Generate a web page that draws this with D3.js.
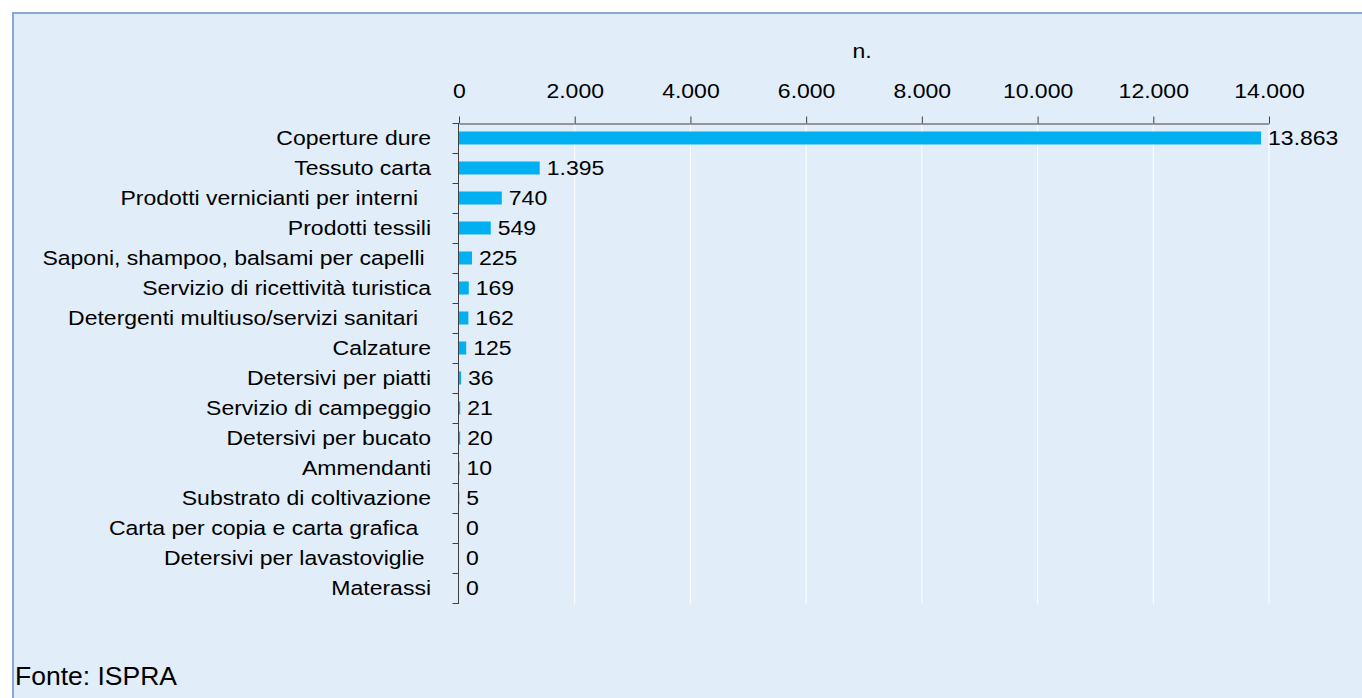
<!DOCTYPE html>
<html>
<head>
<meta charset="utf-8">
<script src="https://cdnjs.cloudflare.com/ajax/libs/d3/7.8.5/d3.min.js"></script>
<style>
  body { margin: 0; background: #ffffff; }
  svg text { font-family: "Liberation Sans", Arial, sans-serif; fill: #000; white-space: pre; }
</style>
</head>
<body>
<div id="chart"></div>
<script>
// categories (trailing spaces kept as in the source labels)
var categories = [
    'Coperture dure',
    'Tessuto carta',
    'Prodotti vernicianti per interni  ',
    'Prodotti tessili',
    'Saponi, shampoo, balsami per capelli ',
    'Servizio di ricettività turistica',
    'Detergenti multiuso/servizi sanitari  ',
    'Calzature',
    'Detersivi per piatti',
    'Servizio di campeggio',
    'Detersivi per bucato',
    'Ammendanti',
    'Substrato di coltivazione',
    'Carta per copia e carta grafica  ',
    'Detersivi per lavastoviglie ',
    'Materassi'
];
var values = [13863, 1395, 740, 549, 225, 169, 162, 125, 36, 21, 20, 10, 5, 0, 0, 0];
var xTicks = [0, 2000, 4000, 6000, 8000, 10000, 12000, 14000];
var unitLabel = 'n.';
var sourceLabel = 'Fonte: ISPRA';

var W = 1362, H = 698;
var plot = {left: 459, right: 1269, top: 123, bottom: 603};
var stretch = 'scale(1.18,1)';

var it = d3.formatLocale({decimal: ',', thousands: '.', grouping: [3], currency: ['', ' €']});
var fmt = it.format(',d');

var svg = d3.select('#chart').append('svg')
    .attr('width', W)
    .attr('height', H);

// panel
svg.append('rect')
    .attr('x', 13)
    .attr('y', 13)
    .attr('width', W + 20)
    .attr('height', H + 20)
    .attr('fill', '#e1edf8')
    .attr('stroke', '#87a5d8')
    .attr('stroke-width', 2);

var x = d3.scaleLinear()
    .domain([0, 14000])
    .range([plot.left, plot.right]);

var y = d3.scaleBand()
    .domain(categories)
    .range([plot.top, plot.bottom])
    .paddingInner(0.567)
    .paddingOuter(0.283);

var yRow = d3.scaleBand()
    .domain(categories)
    .range([plot.top, plot.bottom]);

// white gridlines
svg.append('g')
    .selectAll('line')
    .data(xTicks.slice(1))
    .enter().append('line')
    .attr('x1', function(d) { return x(d); })
    .attr('x2', function(d) { return x(d); })
    .attr('y1', plot.top)
    .attr('y2', plot.bottom + 1)
    .attr('stroke', '#ffffff')
    .attr('stroke-width', 1);

// bars
svg.append('g')
    .selectAll('rect')
    .data(values)
    .enter().append('rect')
    .attr('x', x(0))
    .attr('y', function(d, i) { return y(categories[i]); })
    .attr('width', function(d) { return x(d) - x(0); })
    .attr('height', y.bandwidth())
    .attr('fill', '#00b0f0');

// top axis
var xAxis = svg.append('g')
    .attr('transform', 'translate(0,' + (plot.top + 0.5) + ')')
    .call(d3.axisTop(x)
        .tickValues(xTicks)
        .tickFormat(fmt)
        .tickSizeInner(7)
        .tickSizeOuter(0)
        .tickPadding(19));
xAxis.select('.domain').attr('stroke', '#404040');
xAxis.selectAll('.tick line').attr('stroke', '#404040');
xAxis.selectAll('.tick text')
    .attr('font-size', '19.5px')
    .attr('font-family', '"Liberation Sans", Arial, sans-serif')
    .attr('fill', '#000')
    .attr('transform', stretch);

// left axis (ticks between categories)
var yAxisG = svg.append('g')
    .attr('transform', 'translate(' + (plot.left - 0.5) + ',0)');
yAxisG.append('line')
    .attr('x1', 0).attr('x2', 0)
    .attr('y1', plot.top).attr('y2', plot.bottom + 1)
    .attr('stroke', '#404040');
yAxisG.selectAll('line.tick')
    .data(categories.concat(['__end']))
    .enter().append('line')
    .attr('class', 'tick')
    .attr('x1', -6).attr('x2', 0)
    .attr('y1', function(d, i) { return (i < categories.length ? yRow(d) : plot.bottom) + 0.5; })
    .attr('y2', function(d, i) { return (i < categories.length ? yRow(d) : plot.bottom) + 0.5; })
    .attr('stroke', '#404040');

// category labels
svg.append('g')
    .selectAll('text')
    .data(categories)
    .enter().append('text')
    .attr('transform', function(d) {
        return 'translate(431,' + (yRow(d) + yRow.bandwidth() / 2) + ') ' + stretch;
    })
    .attr('dy', '0.38em')
    .attr('text-anchor', 'end')
    .attr('font-size', '19.5px')
    .text(function(d) { return d; });

// value labels
svg.append('g')
    .selectAll('text')
    .data(values)
    .enter().append('text')
    .attr('transform', function(d, i) {
        return 'translate(' + (x(d) + 7) + ',' + (yRow(categories[i]) + yRow.bandwidth() / 2) + ') ' + stretch;
    })
    .attr('dy', '0.38em')
    .attr('text-anchor', 'start')
    .attr('font-size', '19.5px')
    .text(function(d) { return fmt(d); });

// unit label
svg.append('text')
    .attr('transform', 'translate(' + ((plot.left + plot.right) / 2 - 2) + ',58) ' + stretch)
    .attr('text-anchor', 'middle')
    .attr('font-size', '19.5px')
    .text(unitLabel);

// source
svg.append('text')
    .attr('x', 15)
    .attr('y', 685)
    .attr('font-size', '26.5px')
    .text(sourceLabel);
</script>
</body>
</html>
